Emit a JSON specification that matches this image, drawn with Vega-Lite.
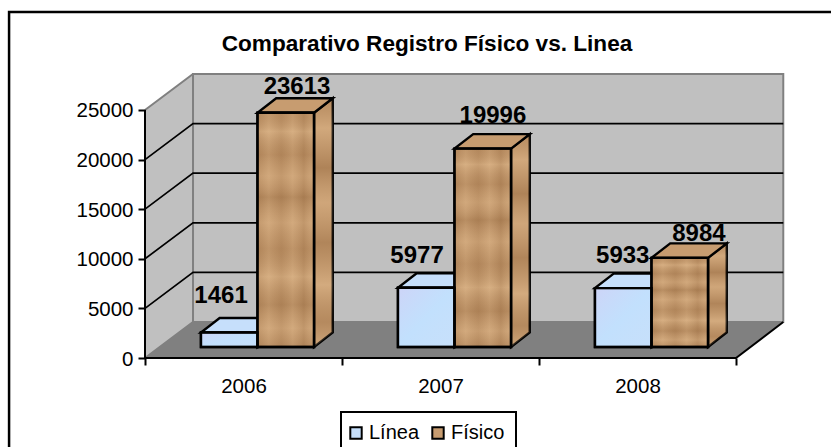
{"$schema":"https://vega.github.io/schema/vega-lite/v6.json","width":831,"height":447,"padding":0,"autosize":{"type":"none"},"background":"white","title":{"text":"Comparativo Registro Físico vs. Linea","font":"Liberation Sans","fontSize":22.6,"fontWeight":"bold","color":"black","anchor":"middle","frame":"group","dx":11.5,"dy":74,"baseline":"alphabetic","offset":0},"config":{"view":{"stroke":null},"legend":{"strokeWidth":2}},"datasets":{"frame":[{"x":-0.69,"x2":3.7,"y":34877,"y2":-12000}],"walls":[{"x":0,"y":0,"y2":25000},{"x":0.2437,"y":3629,"y2":28629}],"back":[{"x":0.2437,"x2":3.24,"y":3629,"y2":28629}],"floor":[{"y":0,"x":0,"x2":3},{"y":3629,"x":0.2437,"x2":3.24}],"grid":[{"g":"5000","x":0,"y":5000},{"g":"5000","x":0.2437,"y":8629},{"g":"5000","x":3.24,"y":8629},{"g":"10000","x":0,"y":10000},{"g":"10000","x":0.2437,"y":13629},{"g":"10000","x":3.24,"y":13629},{"g":"15000","x":0,"y":15000},{"g":"15000","x":0.2437,"y":18629},{"g":"15000","x":3.24,"y":18629},{"g":"20000","x":0,"y":20000},{"g":"20000","x":0.2437,"y":23629},{"g":"20000","x":3.24,"y":23629}],"grayEdges":[{"g":"top","x":0,"y":25000},{"g":"top","x":0.2437,"y":28629},{"g":"top","x":3.24,"y":28629},{"g":"in","x":0,"y":0},{"g":"in","x":0.2437,"y":3629},{"g":"in","x":3.24,"y":3629}],"edges":[{"g":"axis","x":0,"y":25000},{"g":"axis","x":0,"y":0},{"g":"axis","x":3,"y":0},{"g":"axis","x":3.24,"y":3629}],"sides":[{"bar":"2006 Línea","series":"Línea","x":0.571,"y":1109,"y2":2570},{"bar":"2006 Línea","series":"Línea","x":0.666,"y":2571,"y2":4032},{"bar":"2007 Línea","series":"Línea","x":1.571,"y":1109,"y2":7086},{"bar":"2007 Línea","series":"Línea","x":1.666,"y":2571,"y2":8548},{"bar":"2008 Línea","series":"Línea","x":2.571,"y":1109,"y2":7042},{"bar":"2008 Línea","series":"Línea","x":2.666,"y":2571,"y2":8504},{"bar":"2006 Físico","series":"Físico","x":0.858,"y":1109,"y2":24722},{"bar":"2006 Físico","series":"Físico","x":0.953,"y":2571,"y2":26184},{"bar":"2007 Físico","series":"Físico","x":1.858,"y":1109,"y2":21105},{"bar":"2007 Físico","series":"Físico","x":1.953,"y":2571,"y2":22567},{"bar":"2008 Físico","series":"Físico","x":2.858,"y":1109,"y2":10093},{"bar":"2008 Físico","series":"Físico","x":2.953,"y":2571,"y2":11555}],"tops":[{"bar":"2006 Línea","series":"Línea","y":2570,"x":0.284,"x2":0.571},{"bar":"2006 Línea","series":"Línea","y":4032,"x":0.379,"x2":0.666},{"bar":"2007 Línea","series":"Línea","y":7086,"x":1.284,"x2":1.571},{"bar":"2007 Línea","series":"Línea","y":8548,"x":1.379,"x2":1.666},{"bar":"2008 Línea","series":"Línea","y":7042,"x":2.284,"x2":2.571},{"bar":"2008 Línea","series":"Línea","y":8504,"x":2.379,"x2":2.666},{"bar":"2006 Físico","series":"Físico","y":24722,"x":0.571,"x2":0.858},{"bar":"2006 Físico","series":"Físico","y":26184,"x":0.666,"x2":0.953},{"bar":"2007 Físico","series":"Físico","y":21105,"x":1.571,"x2":1.858},{"bar":"2007 Físico","series":"Físico","y":22567,"x":1.666,"x2":1.953},{"bar":"2008 Físico","series":"Físico","y":10093,"x":2.571,"x2":2.858},{"bar":"2008 Físico","series":"Físico","y":11555,"x":2.666,"x2":2.953}],"bars":[{"year":"2006","series":"Línea","value":1461,"x":0.284,"x2":0.571,"label_x":0.386,"label_y":5544},{"year":"2007","series":"Línea","value":5977,"x":1.284,"x2":1.571,"label_x":1.381,"label_y":9576},{"year":"2008","series":"Línea","value":5933,"x":2.284,"x2":2.571,"label_x":2.425,"label_y":9576},{"year":"2006","series":"Físico","value":23613,"x":0.571,"x2":0.858,"label_x":0.7716,"label_y":26611},{"year":"2007","series":"Físico","value":19996,"x":1.571,"x2":1.858,"label_x":1.766,"label_y":23688},{"year":"2008","series":"Físico","value":8984,"x":2.571,"x2":2.858,"label_x":2.812,"label_y":11794}]},"resolve":{"scale":{"x":"shared","y":"shared"}},"encoding":{"x":{"field":"x","type":"quantitative","title":null,"scale":{"domain":[-0.73604,3.48223],"nice":false,"zero":false},"axis":{"zindex":1,"values":[0,0.5,1,1.5,2,2.5,3],"labelExpr":"datum.value==0.5?'2006':datum.value==1.5?'2007':datum.value==2.5?'2008':''","offset":-89,"domain":false,"grid":false,"tickColor":"black","tickWidth":2,"tickSize":7,"tickOpacity":{"condition":{"test":"datum.value%1!==0","value":0},"value":1},"labelFont":"Liberation Sans","labelFontSize":20.5,"labelColor":"black","labelPadding":11,"labelOverlap":false,"labelFlush":false,"labelBound":false}},"y":{"field":"y","type":"quantitative","title":null,"scale":{"domain":[-8971.2,36086.4],"nice":false,"zero":false},"axis":{"zindex":1,"values":[0,5000,10000,15000,20000,25000],"format":"d","offset":-145,"domain":false,"grid":false,"tickColor":"black","tickWidth":2,"tickSize":7,"labelFont":"Liberation Sans","labelFontSize":20.5,"labelColor":"black","labelPadding":5,"labelOffset":1,"labelOverlap":false,"labelBound":false,"labelFlush":false}}},"layer":[{"data":{"name":"frame"},"mark":{"type":"rect","fill":null,"stroke":"black","strokeWidth":2.5},"encoding":{"x2":{"field":"x2"},"y2":{"field":"y2"}}},{"data":{"name":"walls"},"mark":{"type":"area","fill":"#C0C0C0","orient":"vertical"},"encoding":{"y2":{"field":"y2"}}},{"data":{"name":"back"},"mark":{"type":"rect","fill":"#C0C0C0"},"encoding":{"x2":{"field":"x2"},"y2":{"field":"y2"}}},{"data":{"name":"floor"},"mark":{"type":"area","fill":"#808080","orient":"horizontal"},"encoding":{"x2":{"field":"x2"}}},{"data":{"name":"grayEdges"},"mark":{"type":"line","stroke":"#808080","strokeWidth":2},"encoding":{"detail":{"field":"g"},"order":{"field":"x"}}},{"data":{"name":"back"},"mark":{"type":"rect","fill":null,"stroke":"#808080","strokeWidth":2},"encoding":{"x2":{"field":"x2"},"y2":{"field":"y2"}}},{"data":{"name":"grid"},"mark":{"type":"line","stroke":"black","strokeWidth":1.7},"encoding":{"detail":{"field":"g"},"order":{"field":"x"}}},{"data":{"name":"edges"},"mark":{"type":"line","stroke":"black","strokeWidth":2},"encoding":{"order":{"field":"g"}}},{"data":{"name":"sides"},"mark":{"type":"area","stroke":"black","strokeWidth":2.4,"orient":"vertical"},"encoding":{"y2":{"field":"y2"},"detail":{"field":"bar"},"fill":{"field":"series","type":"nominal","scale":{"domain":["Línea","Físico"],"range":["#C6DFFB","#C79C70"]},"legend":{"orient":"none","legendX":341,"legendY":412,"direction":"horizontal","title":null,"strokeColor":"black","fillColor":"white","padding":11,"symbolOffset":-6,"symbolType":"square","symbolSize":130,"symbolStrokeColor":"black","symbolStrokeWidth":2,"labelFont":"Liberation Sans","labelFontSize":20,"labelColor":"black","labelOffset":3,"columnPadding":8}}}},{"data":{"name":"sides"},"transform":[{"filter":"datum.series=='Físico'"}],"mark":{"type":"area","orient":"vertical","fill":{"gradient":"linear","x1":0,"y1":0,"x2":0,"y2":1,"stops":[{"offset":0,"color":"rgba(110,65,25,0.18)"},{"offset":0.12,"color":"rgba(240,205,160,0.25)"},{"offset":0.28,"color":"rgba(110,65,25,0.28)"},{"offset":0.42,"color":"rgba(240,205,160,0.2)"},{"offset":0.58,"color":"rgba(110,65,25,0.25)"},{"offset":0.75,"color":"rgba(240,205,160,0.3)"},{"offset":0.9,"color":"rgba(110,65,25,0.2)"},{"offset":1,"color":"rgba(240,205,160,0.25)"}]}},"encoding":{"y2":{"field":"y2"},"detail":{"field":"bar"}}},{"data":{"name":"tops"},"mark":{"type":"area","stroke":"black","strokeWidth":2.4,"orient":"horizontal"},"encoding":{"x2":{"field":"x2"},"detail":{"field":"bar"},"fill":{"field":"series","type":"nominal"}}},{"data":{"name":"bars"},"mark":{"type":"rect","stroke":"black","strokeWidth":2.4,"yOffset":-11,"y2Offset":-11},"encoding":{"x2":{"field":"x2"},"y":{"field":"value","type":"quantitative"},"y2":{"datum":0},"fill":{"field":"series","type":"nominal"}}},{"data":{"name":"bars"},"transform":[{"filter":"datum.series=='Físico'"}],"mark":{"type":"rect","yOffset":-11,"y2Offset":-11,"fill":{"gradient":"linear","x1":0,"y1":0,"x2":0,"y2":1,"stops":[{"offset":0,"color":"rgba(110,65,25,0.12)"},{"offset":0.08,"color":"rgba(240,205,160,0.3)"},{"offset":0.18,"color":"rgba(110,65,25,0.18)"},{"offset":0.27,"color":"rgba(240,205,160,0.15)"},{"offset":0.36,"color":"rgba(110,65,25,0.25)"},{"offset":0.47,"color":"rgba(240,205,160,0.18)"},{"offset":0.58,"color":"rgba(110,65,25,0.16)"},{"offset":0.7,"color":"rgba(240,205,160,0.3)"},{"offset":0.82,"color":"rgba(110,65,25,0.22)"},{"offset":0.92,"color":"rgba(240,205,160,0.18)"},{"offset":1,"color":"rgba(110,65,25,0.18)"}]}},"encoding":{"x2":{"field":"x2"},"y":{"field":"value","type":"quantitative"},"y2":{"datum":0}}},{"data":{"name":"bars"},"transform":[{"filter":"datum.series=='Físico'"}],"mark":{"type":"rect","yOffset":-11,"y2Offset":-11,"fill":{"gradient":"linear","x1":0,"y1":0,"x2":1,"y2":0,"stops":[{"offset":0,"color":"rgba(110,65,25,0.12)"},{"offset":0.2,"color":"rgba(240,205,160,0.12)"},{"offset":0.42,"color":"rgba(110,65,25,0.1)"},{"offset":0.62,"color":"rgba(240,205,160,0.12)"},{"offset":0.82,"color":"rgba(110,65,25,0.14)"},{"offset":1,"color":"rgba(240,205,160,0.08)"}]}},"encoding":{"x2":{"field":"x2"},"y":{"field":"value","type":"quantitative"},"y2":{"datum":0}}},{"data":{"name":"bars"},"transform":[{"filter":"datum.series=='Línea'"}],"mark":{"type":"rect","yOffset":-11,"y2Offset":-11,"fill":{"gradient":"linear","x1":0,"y1":0,"x2":1,"y2":1,"stops":[{"offset":0,"color":"rgba(210,205,245,0.6)"},{"offset":0.5,"color":"rgba(190,225,255,0.5)"},{"offset":1,"color":"rgba(200,225,250,0.3)"}]}},"encoding":{"x2":{"field":"x2"},"y":{"field":"value","type":"quantitative"},"y2":{"datum":0}}},{"data":{"name":"bars"},"mark":{"type":"rect","fill":null,"stroke":"black","strokeWidth":2.4,"yOffset":-11,"y2Offset":-11},"encoding":{"x2":{"field":"x2"},"y":{"field":"value","type":"quantitative"},"y2":{"datum":0}}},{"data":{"name":"bars"},"mark":{"type":"text","font":"Liberation Sans","fontSize":24,"fontWeight":"bold","color":"black","baseline":"alphabetic","align":"center"},"encoding":{"x":{"field":"label_x","type":"quantitative"},"y":{"field":"label_y","type":"quantitative"},"text":{"field":"value","type":"quantitative","format":"d"}}}]}
